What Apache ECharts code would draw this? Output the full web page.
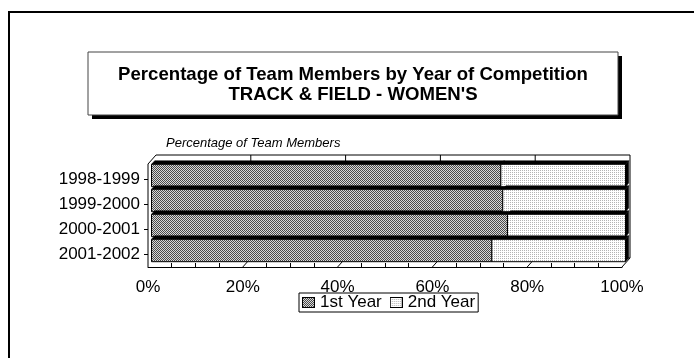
<!DOCTYPE html>
<html>
<head>
<meta charset="utf-8">
<script src="https://cdn.jsdelivr.net/npm/echarts@6/dist/echarts.min.js"></script>
<style>
  html, body { margin: 0; padding: 0; background: #fff; }
  #chart { width: 694px; height: 358px; }
</style>
</head>
<body>
<div id="chart"></div>
<script>
// Seasons, top to bottom
const categories = ['1998-1999', '1999-2000', '2000-2001', '2001-2002'];
// Share of team members (%) in each year of competition
const firstYear = [73.7, 74.1, 75.1, 71.8];
const secondYear = [26.3, 25.9, 24.9, 28.2];
const seriesNames = ['1st Year', '2nd Year'];
const titleLines = ['Percentage of Team Members by Year of Competition', "TRACK & FIELD - WOMEN'S"];
const axisTitle = 'Percentage of Team Members';

const FONT = '"Liberation Sans", Arial, Helvetica, sans-serif';

// Pixel rules of the two fill patterns
const hatchPick = (x, y) => ((x + y) % 2 === 0 ? '#4a4a4a' : '#d8d8d8');
const dotsPick = (x, y) => ((x % 2 === 0 && y % 2 === 0) ? '#b4b4b4' : '#ffffff');

function paintCanvas(w, h, pick, border) {
  const c = document.createElement('canvas');
  c.width = w; c.height = h;
  const g = c.getContext('2d');
  for (let y = 0; y < h; y++) {
    for (let x = 0; x < w; x++) {
      const edge = border && (x === 0 || y === 0 || x === w - 1 || y === h - 1);
      g.fillStyle = edge ? '#000' : pick(x, y);
      g.fillRect(x, y, 1, 1);
    }
  }
  return c;
}
const fills = [hatchPick, dotsPick].map(p => ({ image: paintCanvas(4, 4, p, false), repeat: 'repeat' }));
// Legend swatches: pattern with a black outline
const SW = [13, 11];
const swatches = [hatchPick, dotsPick].map(p => 'image://' + paintCanvas(SW[0], SW[1], p, true).toDataURL());

// Stacked segments: [category index, start, end]
function stackRows(values, below) {
  return values.map((v, i) => {
    const s = below ? below[i] : 0;
    return [i, s, s + v];
  });
}
const firstRows = stackRows(firstYear, null);
const secondRows = stackRows(secondYear, firstYear);

// 3D depth of the whole plot box and of each bar
const WALL = [8, -9];
const BAR_SHIFT = [3.5, -4];
const BAR_DEPTH = [3.2, -3.6];

function barItem(params, api) {
  const cat = api.value(0);
  const p0 = api.coord([api.value(1), cat]);
  const p1 = api.coord([api.value(2), cat]);
  const band = api.size([0, 1])[1];
  const faceH = band * 0.896;
  const yc = p0[1] + BAR_SHIFT[1];
  const top = yc - faceH / 2, bot = yc + faceH / 2;
  const x0 = p0[0] + BAR_SHIFT[0], x1 = p1[0] + BAR_SHIFT[0];
  const dx = BAR_DEPTH[0], dy = BAR_DEPTH[1];
  return {
    type: 'group',
    children: [
      {
        type: 'polygon',
        shape: { points: [[x0, top], [x1, top], [x1 + dx, top + dy], [x0 + dx, top + dy]] },
        style: { fill: '#000', stroke: '#000', lineWidth: 0.5 }
      },
      {
        type: 'polygon',
        shape: { points: [[x1, top], [x1 + dx, top + dy], [x1 + dx, bot + dy], [x1, bot]] },
        style: { fill: '#000', stroke: '#000', lineWidth: 0.5 }
      },
      {
        type: 'rect',
        shape: { x: x0, y: top, width: x1 - x0, height: bot - top },
        style: { fill: fills[params.seriesIndex - 1], stroke: '#000', lineWidth: 1 }
      }
    ]
  };
}

// Walls, floor and gridlines of the 3D plot box
function frameItem(params, api) {
  const cs = params.coordSys;
  const fx0 = cs.x, fx1 = cs.x + cs.width;
  const fyTop = cs.y - 3, fyBot = cs.y + cs.height;
  const bx0 = fx0 + WALL[0], bx1 = fx1 + WALL[0];
  const byTop = fyTop + WALL[1], byBot = fyBot + WALL[1];
  const line = (a, b, w) => ({
    type: 'line',
    shape: { x1: a[0], y1: a[1], x2: b[0], y2: b[1] },
    style: { stroke: '#000', lineWidth: w || 1 }
  });
  const children = [];
  [20, 40, 60, 80].forEach(v => {
    const x = api.coord([v, 0])[0];
    children.push(line([x + WALL[0], byTop], [x + WALL[0], byBot]));
    children.push(line([x, fyBot], [x + WALL[0], byBot]));
  });
  children.push(line([bx0, byBot], [bx1, byBot]));
  children.push(line([fx0, fyTop], [fx0, fyBot]));
  children.push(line([fx0, fyTop], [bx0, byTop]));
  children.push(line([bx0, byTop], [bx1, byTop]));
  children.push(line([bx1, byTop], [bx1, byBot]));
  children.push(line([fx1, fyBot], [bx1, byBot]));
  return { type: 'group', children };
}

const chart = echarts.init(document.getElementById('chart'), null, { renderer: 'canvas' });

chart.setOption({
  animation: false,
  backgroundColor: '#fff',
  textStyle: { fontFamily: FONT },
  grid: { left: 148, right: 72, top: 167, bottom: 91 },
  xAxis: {
    type: 'value',
    min: 0, max: 100, interval: 20,
    axisLine: { show: true, lineStyle: { color: '#000', width: 1 } },
    axisTick: { show: false, inside: true },
    minorTick: { show: true, splitNumber: 4, length: 4, lineStyle: { color: '#000', width: 1 } },
    splitLine: { show: false },
    axisLabel: { formatter: '{value}%', fontSize: 17, color: '#000', margin: 12, fontFamily: FONT }
  },
  yAxis: {
    type: 'category',
    inverse: true,
    data: categories,
    axisLine: { show: false },
    axisTick: { show: true, alignWithLabel: true, length: 4, lineStyle: { color: '#000' } },
    axisLabel: { fontSize: 17, color: '#000', margin: 8, fontFamily: FONT }
  },
  legend: {
    data: seriesNames.map((n, i) => ({ name: n, icon: swatches[i] })),
    left: 299, top: 293,
    orient: 'horizontal',
    padding: [1, 3, 1, 3],
    itemGap: 8,
    itemWidth: SW[0], itemHeight: SW[1],
    borderColor: '#000', borderWidth: 1,
    textStyle: { fontSize: 17, color: '#000', lineHeight: 17, fontFamily: FONT }
  },
  graphic: [
    { type: 'rect', z: 100, silent: true, shape: { x: 9, y: 12, width: 720, height: 400 },
      style: { fill: 'none', stroke: '#000', lineWidth: 2 } },
    { type: 'rect', z: 100, shape: { x: 92, y: 56, width: 530, height: 63 },
      style: { fill: '#000' } },
    { type: 'rect', z: 101, shape: { x: 88, y: 52, width: 530, height: 63 },
      style: { fill: '#fff', stroke: '#444', lineWidth: 1 } },
    { type: 'text', z: 102, x: 353, y: 75,
      style: { text: titleLines[0], font: 'bold 18.6px ' + FONT, fill: '#000', textAlign: 'center', textVerticalAlign: 'middle' } },
    { type: 'text', z: 102, x: 353, y: 95,
      style: { text: titleLines[1], font: 'bold 18.6px ' + FONT, fill: '#000', textAlign: 'center', textVerticalAlign: 'middle' } },
    { type: 'text', z: 102, x: 166, y: 143,
      style: { text: axisTitle, font: 'italic 13px ' + FONT, fill: '#000', textAlign: 'left', textVerticalAlign: 'middle' } }
  ],
  series: [
    {
      type: 'custom', name: 'frame', z: 1, silent: true, clip: false,
      renderItem: frameItem, data: [[0, 0]]
    },
    {
      type: 'custom', name: seriesNames[0], z: 3, clip: false,
      itemStyle: { color: '#8a8a8a' },
      renderItem: barItem, encode: { x: [1, 2], y: 0 },
      data: firstRows
    },
    {
      type: 'custom', name: seriesNames[1], z: 3, clip: false,
      itemStyle: { color: '#eeeeee' },
      renderItem: barItem, encode: { x: [1, 2], y: 0 },
      data: secondRows
    }
  ]
});
</script>
</body>
</html>
